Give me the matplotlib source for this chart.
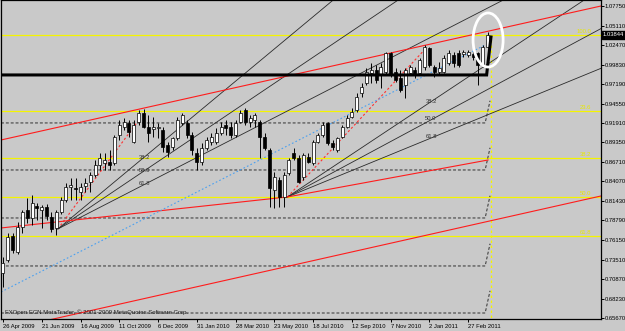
import numpy as np
import matplotlib
matplotlib.use('Agg')
import matplotlib.pyplot as plt
from matplotlib.patches import Ellipse
from matplotlib.transforms import blended_transform_factory

plt.rcParams['font.family'] = ['Liberation Sans', 'DejaVu Sans']

# weekly candles, 26 Apr 2009 .. end of Mar 2011
opens = [0.7171, 0.7346, 0.7670, 0.7454, 0.7792, 0.8021, 0.7913, 0.8075, 0.8021, 0.8062,
         0.7927, 0.7778, 0.7994, 0.8156, 0.8332, 0.8318, 0.8264, 0.8345, 0.8399, 0.8494,
         0.8629, 0.8656, 0.8669, 0.8656, 0.9034, 0.9142, 0.9196, 0.8939, 0.9209, 0.9331,
         0.9142, 0.9115, 0.9128, 0.9101, 0.8899, 0.8872, 0.8993, 0.9196, 0.9196, 0.9034,
         0.8791, 0.8669, 0.8858, 0.8939, 0.8939, 0.9061, 0.9169, 0.9142, 0.9034, 0.9209,
         0.9371, 0.9209, 0.9236, 0.9209, 0.9007, 0.8831, 0.8291, 0.8426, 0.8197, 0.8521,
         0.8791, 0.8723, 0.8467, 0.8737, 0.8656, 0.8939, 0.9034, 0.9196, 0.8926, 0.8831,
         0.9007, 0.9142, 0.9277, 0.9371, 0.9601, 0.9736, 0.9871, 0.9911, 0.9844, 0.9884,
         1.0141, 0.9884, 0.9803, 0.9709, 0.9871, 0.9911, 0.9871, 0.9952, 1.0208, 0.9952,
         0.9884, 0.9884, 1.0006, 1.0114, 1.0141, 1.0127, 1.0114, 1.0127, 1.0141, 0.9979,
         1.0222]
highs = [0.7387, 0.7711, 0.7711, 0.7859, 0.8021, 0.8183, 0.8224, 0.8116, 0.8089, 0.8102,
         0.7994, 0.8021, 0.8197, 0.8386, 0.8453, 0.8453, 0.8386, 0.8453, 0.8534, 0.8696,
         0.8791, 0.8791, 0.8831, 0.9034, 0.9236, 0.9263, 0.9236, 0.9236, 0.9371, 0.9385,
         0.9304, 0.9277, 0.9196, 0.9142, 0.8939, 0.9007, 0.9277, 0.9331, 0.9236, 0.9074,
         0.8858, 0.8926, 0.9007, 0.9061, 0.9128, 0.9209, 0.9236, 0.9209, 0.9236, 0.9371,
         0.9398, 0.9304, 0.9331, 0.9236, 0.9061, 0.8858, 0.8534, 0.8467, 0.8534, 0.8723,
         0.8858, 0.8764, 0.8791, 0.8791, 0.8966, 0.9061, 0.9209, 0.9209, 0.8966, 0.9007,
         0.9169, 0.9304, 0.9398, 0.9601, 0.9736, 0.9938, 1.0006, 0.9979, 1.0006, 1.0154,
         1.0154, 0.9938, 0.9911, 0.9938, 0.9979, 0.9952, 1.0073, 1.0248, 1.0222, 0.9979,
         1.0019, 1.0114, 1.0181, 1.0154, 1.0181, 1.0181, 1.0181, 1.0181, 1.0154, 1.0248,
         1.0424]
lows = [0.6982, 0.7319, 0.7441, 0.7427, 0.7711, 0.7846, 0.7819, 0.7886, 0.7778, 0.7886,
        0.7724, 0.7684, 0.7967, 0.8129, 0.8156, 0.8156, 0.8156, 0.8264, 0.8264, 0.8467,
        0.8561, 0.8561, 0.8561, 0.8629, 0.8966, 0.9101, 0.9007, 0.8926, 0.9169, 0.9128,
        0.8939, 0.9007, 0.8993, 0.8804, 0.8737, 0.8831, 0.8966, 0.9169, 0.8993, 0.8764,
        0.8561, 0.8629, 0.8831, 0.8899, 0.8912, 0.9034, 0.9034, 0.8993, 0.9007, 0.9196,
        0.9169, 0.9142, 0.9142, 0.8723, 0.8831, 0.8062, 0.8048, 0.8062, 0.8062, 0.8494,
        0.8696, 0.8386, 0.8426, 0.8656, 0.8629, 0.8926, 0.9007, 0.8899, 0.8831, 0.8804,
        0.8993, 0.9128, 0.9263, 0.9344, 0.9547, 0.9709, 0.9736, 0.9736, 0.9668, 0.9857,
        0.9817, 0.9749, 0.9614, 0.9533, 0.9844, 0.9803, 0.9844, 0.9911, 0.9952, 0.9817,
        0.9844, 0.9871, 0.9979, 0.9952, 0.9952, 1.0087, 1.0087, 1.0046, 0.9709, 0.9952,
        1.0208]
closes = [0.7306, 0.7657, 0.7481, 0.7792, 0.7994, 0.7913, 0.8116, 0.8048, 0.8062, 0.7940,
          0.7765, 0.7994, 0.8156, 0.8332, 0.8359, 0.8305, 0.8332, 0.8386, 0.8494, 0.8629,
          0.8723, 0.8696, 0.8629, 0.9007, 0.9169, 0.9209, 0.9074, 0.9169, 0.9331, 0.9142,
          0.9061, 0.9142, 0.9142, 0.8872, 0.8804, 0.8993, 0.9236, 0.9304, 0.9034, 0.8831,
          0.8669, 0.8858, 0.8966, 0.9007, 0.9061, 0.9142, 0.9128, 0.9034, 0.9196, 0.9331,
          0.9209, 0.9263, 0.9304, 0.9007, 0.8858, 0.8318, 0.8467, 0.8197, 0.8494, 0.8696,
          0.8723, 0.8399, 0.8764, 0.8669, 0.8939, 0.9034, 0.9169, 0.8926, 0.8872, 0.8993,
          0.9142, 0.9263, 0.9344, 0.9547, 0.9682, 0.9884, 0.9911, 0.9776, 0.9952, 1.0141,
          0.9844, 0.9776, 0.9641, 0.9911, 0.9952, 0.9844, 1.0046, 1.0222, 0.9979, 0.9884,
          0.9938, 1.0073, 1.0141, 1.0006, 0.9979, 1.0154, 1.0154, 1.0087, 0.9979, 1.0222,
          1.0383]
last_price = '1.03844'

date_ticks = [0, 8, 16, 24, 32, 40, 48, 56, 64, 72, 80, 88, 96]
date_labels = ['26 Apr 2009', '21 Jun 2009', '16 Aug 2009', '11 Oct 2009', '6 Dec 2009',
               '31 Jan 2010', '28 Mar 2010', '23 May 2010', '18 Jul 2010', '12 Sep 2010',
               '7 Nov 2010', '2 Jan 2011', '27 Feb 2011']
price_ticks = [1.0775, 1.0511, 1.0247, 0.9983, 0.9719, 0.9455, 0.9191, 0.8935, 0.8671,
               0.8407, 0.8143, 0.7879, 0.7615, 0.7351, 0.7087, 0.6823, 0.6567]
price_labels = ['1.07750', '1.05110', '1.02470', '0.99830', '0.97190', '0.94550', '0.91910',
                '0.89350', '0.86710', '0.84070', '0.81430', '0.78790', '0.76150', '0.73510',
                '0.70870', '0.68230', '0.65670']

# fibo retracement levels (yellow)
fibo_prices = [1.0390, 0.9358, 0.8723, 0.8197, 0.7670]
fibo_names = ['100.0', '23.6', '38.2', '50.0', '61.8']
fibo_x = 100.6

# fibo fans: (week, price) of start and end points
fan1_a, fan1_b = (11.33, 0.7765), (27.8, 0.9215)
fan2_a, fan2_b = (58.71, 0.8197), (86.94, 1.0181)
fan_levels = [38.2, 50.0, 61.8]

# red trend lines
red_lines = [[(-0.41, 0.8966), (123.4, 1.0775)],
             [(-0.41, 0.7778), (58.71, 0.8197)],
             [(58.71, 0.8197), (100.1, 0.8696)],
             [(9.5, 0.6536), (123.4, 0.8210)]]
blue_line = [(-0.41, 0.6914), (99.5, 1.0249)]

# dashed channel levels and the drawn support line
dash_prices = [0.9196, 0.8561, 0.7913, 0.7265, 0.6630]
support_price = 0.9844
support_tail = [(100.0, 0.9965), (100.7, 1.0356)]

bg = '#c9c9c9'
fs = 4.2
fig = plt.figure(figsize=(6.25, 3.31), dpi=100, facecolor=bg)
ax = fig.add_axes([1 / 625, 12 / 331, 600 / 625, 319 / 331], facecolor=bg)
ax.set_xlim(-0.41, 123.4)
ax.set_ylim(0.6549, 1.0856)

# yellow fibo lines
for p, name in zip(fibo_prices, fibo_names):
    ax.axhline(p, color='#f4f400', lw=0.9, zorder=1)
    ax.text(fibo_x + 20.8, p + 0.0008, name, color='#e8e800', fontsize=fs,
            ha='right', va='bottom', zorder=2)
ax.plot([fibo_x, fibo_x], [fibo_prices[0], 0.6549], color='#f4f400', lw=0.9,
        ls=(0, (2, 2)), zorder=1)

# dashed levels with a short bend at the end
for p in dash_prices:
    ax.plot([-0.41, 99.5, 100.5], [p, p, p + 0.030], color='#303030', lw=0.7,
            ls=(0, (3, 2)), zorder=1)

# fans
for a, b in [(fan1_a, fan1_b), (fan2_a, fan2_b)]:
    ax.plot([a[0], b[0]], [a[1], b[1]], color='#ff3030', lw=0.8, ls=(0, (2, 2)), zorder=2)
    for lv in fan_levels:
        p = b[1] - lv / 100 * (b[1] - a[1])
        k = (p - a[1]) / (b[0] - a[0])
        ax.plot([a[0], 125], [a[1], a[1] + k * (125 - a[0])], color='#2a2a2a', lw=0.6, zorder=2)
        ax.text(b[0] + 0.2, p + 0.003, f'{lv:.1f}', color='#303030', fontsize=fs,
                ha='left', va='bottom', zorder=2)

for seg in red_lines:
    ax.plot([seg[0][0], seg[1][0]], [seg[0][1], seg[1][1]], color='#ff1c1c', lw=0.8, zorder=2)
ax.plot([blue_line[0][0], blue_line[1][0]], [blue_line[0][1], blue_line[1][1]],
        color='#4aa0f0', lw=0.8, ls=(0, (1.5, 2)), zorder=2)

# candles
x = np.arange(len(opens))
o = np.array(opens); c = np.array(closes)
ax.vlines(x, lows, highs, color='black', lw=0.7, zorder=3)
up = c >= o
body_lo = np.minimum(o, c)
body_h = np.maximum(np.abs(c - o), 0.0012)
ax.bar(x[up], body_h[up], bottom=body_lo[up], width=0.62, color='white',
       edgecolor='black', lw=0.5, zorder=4)
ax.bar(x[~up], body_h[~up], bottom=body_lo[~up], width=0.62, color='black',
       edgecolor='black', lw=0.5, zorder=4)

# drawn support line and circle
ax.plot([-0.41, 99.8] + [t[0] for t in support_tail],
        [support_price, support_price] + [t[1] for t in support_tail],
        color='black', lw=2.2, solid_joinstyle='miter', zorder=5)
ax.add_patch(Ellipse((100.1, 1.0316), 6.2, 0.073, fill=False, ec='white', lw=2.0, zorder=6))

# axes
for s in ax.spines.values():
    s.set_color('black')
    s.set_linewidth(0.9)
ax.yaxis.tick_right()
ax.set_yticks(price_ticks)
ax.set_yticklabels(price_labels)
ax.set_xticks(date_ticks)
ax.set_xticklabels(date_labels, ha='left')
ax.tick_params(axis='y', length=2, width=0.7, pad=0.8, labelsize=fs, colors='black')
ax.tick_params(axis='x', length=2.5, width=0.7, pad=0.8, labelsize=fs, colors='black')

tr = blended_transform_factory(ax.transAxes, ax.transData)
ax.text(1.003, 1.03844, last_price, transform=tr, color='white', fontsize=fs,
        ha='left', va='center', bbox=dict(fc='black', ec='black', pad=0.8), zorder=7)
ax.text(0.007, 0.012, 'FXOpen ECN MetaTrader, \u00a9 2001-2009 MetaQuotes Software Corp.',
        transform=ax.transAxes, fontsize=4.3, color='#202020', ha='left', va='bottom', zorder=7)

fig.savefig('out.png', dpi=100, facecolor=bg)
